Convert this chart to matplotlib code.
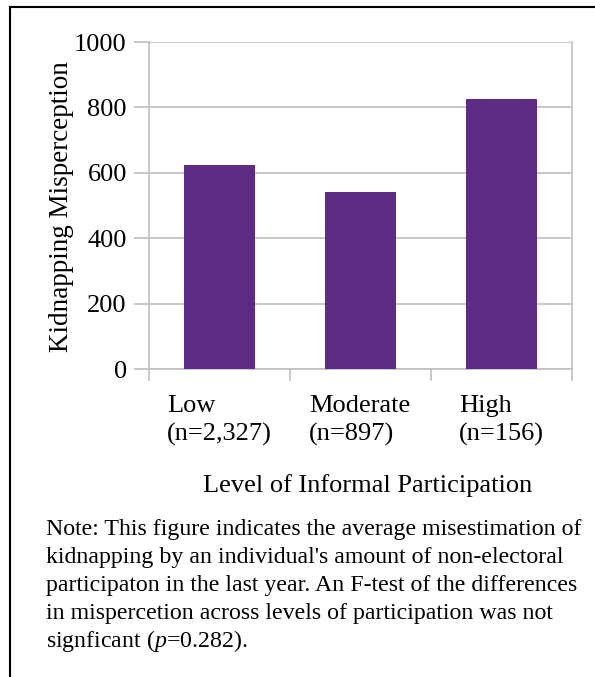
import matplotlib
matplotlib.use("Agg")
import matplotlib.pyplot as plt
from matplotlib.lines import Line2D

categories = ["Low", "Moderate", "High"]
sample_sizes = ["(n=2,327)", "(n=897)", "(n=156)"]
values = [624, 541, 826]
yticks = [0, 200, 400, 600, 800, 1000]

note_lines = [
    "Note: This figure indicates the average misestimation of",
    "kidnapping by an individual's amount of non-electoral",
    "participaton in the last year. An F-test of the differences",
    "in mispercetion across levels of participation was not",
    "signficant ($\\it{p}$=0.282).",
]

plt.rcParams['font.family'] = ['Liberation Serif', 'DejaVu Serif']
plt.rcParams['mathtext.fontset'] = 'custom'
plt.rcParams['mathtext.it'] = 'Liberation Serif:italic'
plt.rcParams['mathtext.rm'] = 'Liberation Serif'

W, H = 595, 677
fig = plt.figure(figsize=(W / 100, H / 100), dpi=100)
ax = fig.add_axes([149 / W, 1 - 369 / H, (572 - 149) / W, (369 - 42) / H])

x = range(len(values))
ax.bar(x, values, width=0.5, color='#5b2c82', zorder=3)
ax.set_xlim(-0.5, 2.5)
ax.set_ylim(0, 1000)
ax.set_yticks(yticks)
ax.set_yticklabels([str(v) for v in yticks], fontsize=19)
ax.grid(axis='y', color='#bfbfbf', linewidth=1.2, zorder=0)
ax.tick_params(axis='y', length=11, color='#bfbfbf', width=1.2, pad=5)
ax.set_xticks([])
ax.spines['top'].set_visible(False)
for s in ['left', 'right', 'bottom']:
    ax.spines[s].set_color('#bfbfbf')
    ax.spines[s].set_linewidth(1.2)

# category separator ticks below axis
for b in [-0.5, 0.5, 1.5, 2.5]:
    ax.plot([b, b], [0, -33], color='#bfbfbf', lw=1.2, clip_on=False, zorder=1)

label_x = [167, 309, 459]
for lx, cat, n in zip(label_x, categories, sample_sizes):
    fig.text(lx / W, 1 - 412 / H, cat, fontsize=19, ha='left', va='baseline')
    fig.text(lx / W, 1 - 441 / H, n, fontsize=19, ha='left', va='baseline')

fig.text(62 / W, 1 - 207 / H, "Kidnapping Misperception", rotation=90, fontsize=19.5,
         ha='center', va='center')
fig.text(368 / W, 1 - 492 / H, "Level of Informal Participation", fontsize=19,
         ha='center', va='baseline')
for i, line in enumerate(note_lines):
    fig.text(46 / W, 1 - (535 + 28 * i) / H, line, fontsize=17.2, ha='left', va='baseline')

# outer frame (clipped on right and bottom)
fig.add_artist(Line2D([10 / W, 10 / W], [0, 1 - 7 / H], color='black', lw=1.5))
fig.add_artist(Line2D([10 / W, 1], [1 - 7 / H, 1 - 7 / H], color='black', lw=1.5))

fig.savefig('out.png', dpi=100)
